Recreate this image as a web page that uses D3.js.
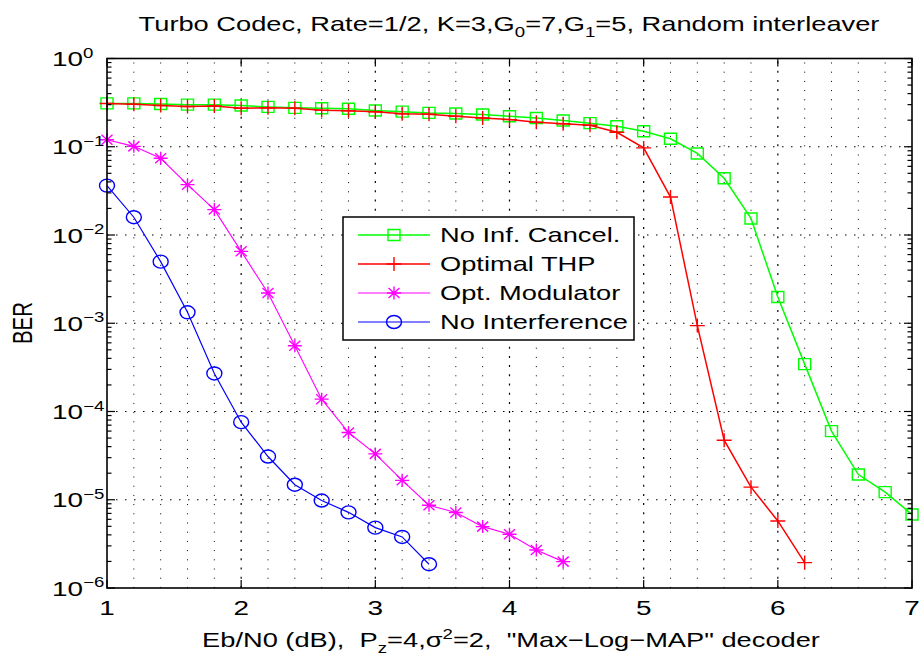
<!DOCTYPE html>
<html>
<head>
<meta charset="utf-8">
<script src="https://cdn.jsdelivr.net/npm/d3@7/dist/d3.min.js"></script>
<style>
  html, body { margin: 0; padding: 0; background: #fff; }
  svg { display: block; }
  text { font-family: "Liberation Sans", Arial, Helvetica, sans-serif; fill: #000; white-space: pre; }
</style>
</head>
<body>
<div id="chart"></div>
<script>
'use strict';

// Eb/N0 points (dB)
var ebn0 = [1.0, 1.2, 1.4, 1.6, 1.8, 2.0, 2.2, 2.4, 2.6, 2.8, 3.0, 3.2, 3.4, 3.6, 3.8, 4.0,
            4.2, 4.4, 4.6, 4.8, 5.0, 5.2, 5.4, 5.6, 5.8, 6.0, 6.2, 6.4, 6.6, 6.8, 7.0];

// BER per curve (one value per Eb/N0 point, starting at 1 dB)
var berNoCancel = [0.31, 0.31, 0.305, 0.30, 0.30, 0.293, 0.283, 0.276, 0.273, 0.27, 0.257,
                   0.25, 0.242, 0.238, 0.232, 0.222, 0.212, 0.198, 0.185, 0.171, 0.150, 0.123,
                   0.084, 0.044, 0.0154, 1.98e-3, 3.44e-4, 6.0e-5, 1.93e-5, 1.22e-5, 6.8e-6];
var berOptimalThp = [0.309, 0.303, 0.293, 0.286, 0.29, 0.273, 0.276, 0.273, 0.26, 0.255, 0.249,
                     0.236, 0.234, 0.222, 0.212, 0.203, 0.19, 0.182, 0.175, 0.146, 0.097, 0.0269,
                     9.4e-4, 4.73e-5, 1.39e-5, 5.75e-6, 1.94e-6];
var berOptModulator = [0.12, 0.101, 0.074, 0.0372, 0.0194, 6.53e-3, 2.2e-3, 5.56e-4, 1.38e-4,
                       5.78e-5, 3.31e-5, 1.66e-5, 8.67e-6, 7.16e-6, 4.96e-6, 4.07e-6, 2.7e-6, 1.99e-6];
var berNoInterference = [0.0363, 0.0159, 4.99e-3, 1.33e-3, 2.7e-4, 7.57e-5, 3.09e-5, 1.48e-5,
                         9.8e-6, 7.2e-6, 4.83e-6, 3.79e-6, 1.86e-6];

var seriesNames   = ['No Inf. Cancel.', 'Optimal THP', 'Opt. Modulator', 'No Interference'];
var xTicks        = [1, 2, 3, 4, 5, 6, 7];
var xMinorGrid    = [1.2, 1.4, 1.6, 1.8, 2.2, 2.4, 2.6, 2.8, 3.2, 3.4, 3.6, 3.8, 4.2, 4.4, 4.6, 4.8,
                     5.2, 5.4, 5.6, 5.8, 6.2, 6.4, 6.6, 6.8];
var yExponents    = [0, -1, -2, -3, -4, -5, -6];

var series = [
    {name: seriesNames[0], values: berNoCancel,       color: '#00ff00', marker: 'square', width: 1.5},
    {name: seriesNames[1], values: berOptimalThp,     color: '#ff0000', marker: 'plus',   width: 1.5},
    {name: seriesNames[2], values: berOptModulator,   color: '#ff00ff', marker: 'star',   width: 1.1},
    {name: seriesNames[3], values: berNoInterference, color: '#0000ff', marker: 'circle', width: 1.2}
];

var width  = 919,
    height = 659,
    plot   = {left: 107, right: 912, top: 58.5, bottom: 588},
    SX     = 1.33; // the original figure is stretched horizontally

var x = d3.scaleLinear().domain([1, 7]).range([plot.left, plot.right]);
var y = d3.scaleLog().domain([1e-6, 1]).range([plot.bottom, plot.top]);

var svg = d3.select('#chart').append('svg')
    .attr('width', width)
    .attr('height', height);

// text that gets the same horizontal stretch as the picture
function stretchedText(parent, tx, ty, anchor, size, rotate) {
    return parent.append('g')
        .attr('transform', 'translate(' + tx + ',' + ty + ') scale(' + SX + ',1)' + (rotate ? ' rotate(' + rotate + ')' : ''))
        .append('text')
        .attr('text-anchor', anchor)
        .style('font-size', size + 'px');
}

// grid
var grid = svg.append('g');

grid.selectAll('.vminor')
    .data(xMinorGrid)
    .enter().append('line')
    .attr('x1', function (d) { return x(d); })
    .attr('x2', function (d) { return x(d); })
    .attr('y1', plot.top + 4)
    .attr('y2', plot.bottom)
    .attr('stroke', '#000')
    .attr('stroke-width', 1)
    .attr('stroke-dasharray', '1,8.2');

grid.selectAll('.vmajor')
    .data(xTicks.slice(1, -1))
    .enter().append('line')
    .attr('x1', function (d) { return x(d); })
    .attr('x2', function (d) { return x(d); })
    .attr('y1', plot.top + 3)
    .attr('y2', plot.bottom)
    .attr('stroke', '#000')
    .attr('stroke-width', 1.2)
    .attr('stroke-dasharray', '2,7.2');

grid.selectAll('.hmajor')
    .data(yExponents.slice(1, -1))
    .enter().append('line')
    .attr('x1', plot.left)
    .attr('x2', plot.right)
    .attr('y1', function (d) { return y(Math.pow(10, d)); })
    .attr('y2', function (d) { return y(Math.pow(10, d)); })
    .attr('stroke', '#000')
    .attr('stroke-width', 1.2)
    .attr('stroke-dasharray', '1.5,7.5');

// curves
var line = d3.line()
    .x(function (d) { return x(d.x); })
    .y(function (d) { return y(d.y); });

function markerPath(type) {
    switch (type) {
        case 'square':
            return 'M-6,-5.5H6V5.5H-6Z';
        case 'plus':
            return 'M-7.5,0H7.5M0,-7V7';
        case 'star':
            return 'M-7,0H7M0,-6.5V6.5M-5.5,-5L5.5,5M-5.5,5L5.5,-5';
        default:
            return 'M-7.5,0A7.5,6.5 0 1,0 7.5,0A7.5,6.5 0 1,0 -7.5,0Z';
    }
}

var curves = svg.append('g');

series.forEach(function (s) {
    var pts = s.values.map(function (v, i) {
        return {x: ebn0[i], y: v};
    });

    var g = curves.append('g');

    g.append('path')
        .datum(pts)
        .attr('d', line)
        .attr('fill', 'none')
        .attr('stroke', s.color)
        .attr('stroke-width', s.width);

    g.selectAll('.mk')
        .data(pts)
        .enter().append('path')
        .attr('transform', function (d) { return 'translate(' + x(d.x) + ',' + y(d.y) + ')'; })
        .attr('d', markerPath(s.marker))
        .attr('fill', 'none')
        .attr('stroke', s.color)
        .attr('stroke-width', 1.4);
});

// axes box and ticks
var axes = svg.append('g');

axes.append('rect')
    .attr('x', plot.left)
    .attr('y', plot.top)
    .attr('width', plot.right - plot.left)
    .attr('height', plot.bottom - plot.top)
    .attr('fill', 'none')
    .attr('stroke', '#000')
    .attr('stroke-width', 1.6);

var yMinor = [];
yExponents.slice(1).forEach(function (e) {
    [2, 3, 4, 5, 6, 7, 8, 9].forEach(function (m) {
        yMinor.push(m * Math.pow(10, e));
    });
});

[plot.left, plot.right].forEach(function (x0, side) {
    var dir = side === 0 ? 1 : -1;

    axes.selectAll(null)
        .data(yMinor)
        .enter().append('line')
        .attr('x1', x0)
        .attr('x2', x0 + dir * 4.5)
        .attr('y1', function (d) { return y(d); })
        .attr('y2', function (d) { return y(d); })
        .attr('stroke', '#000')
        .attr('stroke-width', 1.2);

    axes.selectAll(null)
        .data(yExponents)
        .enter().append('line')
        .attr('x1', x0)
        .attr('x2', x0 + dir * 8)
        .attr('y1', function (d) { return y(Math.pow(10, d)); })
        .attr('y2', function (d) { return y(Math.pow(10, d)); })
        .attr('stroke', '#000')
        .attr('stroke-width', 1.2);
});

[plot.bottom, plot.top].forEach(function (y0, side) {
    var dir = side === 0 ? -1 : 1;

    axes.selectAll(null)
        .data(xTicks)
        .enter().append('line')
        .attr('x1', function (d) { return x(d); })
        .attr('x2', function (d) { return x(d); })
        .attr('y1', y0)
        .attr('y2', y0 + dir * 8)
        .attr('stroke', '#000')
        .attr('stroke-width', 1.2);
});

// tick labels
xTicks.forEach(function (t) {
    stretchedText(svg, x(t), 615, 'middle', 21).text(t);
});

yExponents.forEach(function (e) {
    var t = stretchedText(svg, 52, y(Math.pow(10, e)) + 7.5, 'start', 21);
    t.append('tspan').text('10');
    t.append('tspan')
        .attr('dy', -8.5)
        .style('font-size', '14px')
        .text(String(e).replace('-', '\u2212'));
});

// title
var title = stretchedText(svg, 509, 31, 'middle', 20.5);
title.append('tspan').text('Turbo Codec, Rate=1/2, K=3,G');
title.append('tspan').attr('dy', 6).style('font-size', '14px').text('0');
title.append('tspan').attr('dy', -6).text('=7,G');
title.append('tspan').attr('dy', 6).style('font-size', '14px').text('1');
title.append('tspan').attr('dy', -6).text('=5, Random interleaver');

// x label
var xl = stretchedText(svg, 511, 647, 'middle', 20.5);
xl.append('tspan').text('Eb/N0 (dB),  P');
xl.append('tspan').attr('dy', 6).style('font-size', '14px').text('z');
xl.append('tspan').attr('dy', -6).text('=4,\u03c3');
xl.append('tspan').attr('dy', -8).style('font-size', '14px').text('2');
xl.append('tspan').attr('dy', 8).text('=2,  "Max\u2212Log\u2212MAP" decoder');

// y label
stretchedText(svg, 32, 323, 'middle', 20.5, -90).text('BER');

// legend
var legend = svg.append('g');

legend.append('rect')
    .attr('x', 343)
    .attr('y', 217)
    .attr('width', 291)
    .attr('height', 123)
    .attr('fill', '#fff')
    .attr('stroke', '#000')
    .attr('stroke-width', 1.5);

series.forEach(function (s, i) {
    var ry = 235 + i * 29;

    legend.append('line')
        .attr('x1', 358)
        .attr('x2', 430)
        .attr('y1', ry)
        .attr('y2', ry)
        .attr('stroke', s.color)
        .attr('stroke-width', s.width);

    legend.append('path')
        .attr('transform', 'translate(394,' + ry + ')')
        .attr('d', markerPath(s.marker))
        .attr('fill', 'none')
        .attr('stroke', s.color)
        .attr('stroke-width', 1.4);

    stretchedText(legend, 440, ry + 7, 'start', 20.5).text(s.name);
});
</script>
</body>
</html>
